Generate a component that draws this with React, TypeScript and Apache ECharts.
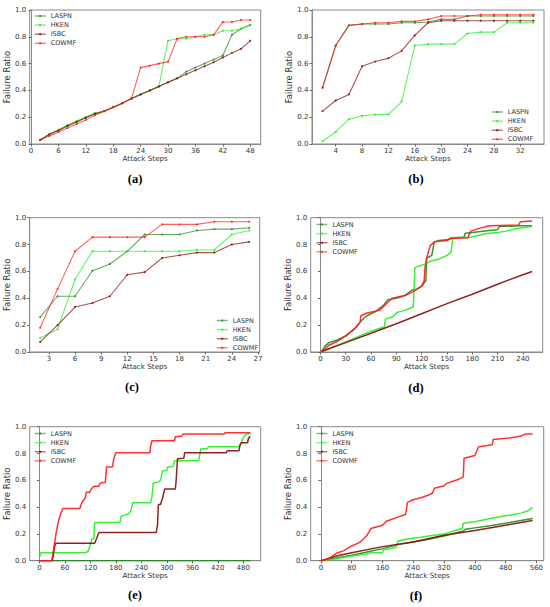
import React, { useEffect, useRef } from "react";
import * as echarts from "echarts";

// ---------- data ----------
const NAMES = ["LASPN", "HKEN", "ISBC", "COWMF"];
const COLORS = ["#1f8a1f", "#22ee22", "#850a0a", "#ff1a1a"];

// (a)
const aSteps = [2, 4, 6, 8, 10, 12, 14, 16, 18, 20, 22, 24, 26, 28, 30, 32, 34, 36, 38, 40, 42, 44, 46, 48];
const aLASPN = [0.03, 0.075, 0.105, 0.14, 0.17, 0.2, 0.23, 0.245, 0.275, 0.305, 0.34, 0.37, 0.4, 0.43, 0.46, 0.49, 0.54, 0.57, 0.6, 0.63, 0.66, 0.815, 0.86, 0.89];
const aHKEN = [0.03, 0.075, 0.105, 0.14, 0.17, 0.2, 0.23, 0.245, 0.275, 0.305, 0.34, 0.37, 0.4, 0.43, 0.77, 0.785, 0.785, 0.8, 0.815, 0.815, 0.845, 0.845, 0.86, 0.885];
const aISBC = [0.03, 0.07, 0.1, 0.135, 0.165, 0.195, 0.225, 0.245, 0.275, 0.305, 0.34, 0.37, 0.4, 0.43, 0.46, 0.49, 0.52, 0.55, 0.58, 0.61, 0.645, 0.68, 0.71, 0.77];
const aCOWMF = [0.03, 0.06, 0.09, 0.12, 0.15, 0.18, 0.215, 0.245, 0.275, 0.305, 0.34, 0.57, 0.585, 0.6, 0.615, 0.785, 0.8, 0.8, 0.8, 0.815, 0.91, 0.91, 0.925, 0.925];
const aXTicks = [0, 6, 12, 18, 24, 30, 36, 42, 48];

// (b)
const bSteps = [2, 4, 6, 8, 10, 12, 14, 16, 18, 20, 22, 24, 26, 28, 30, 32, 34];
const bLASPN = [0.42, 0.735, 0.885, 0.895, 0.895, 0.895, 0.905, 0.905, 0.91, 0.93, 0.93, 0.955, 0.955, 0.955, 0.955, 0.955, 0.955];
const bHKEN = [0.02, 0.09, 0.185, 0.21, 0.22, 0.22, 0.315, 0.735, 0.745, 0.745, 0.745, 0.825, 0.835, 0.835, 0.905, 0.905, 0.905];
const bISBC = [0.245, 0.325, 0.37, 0.58, 0.615, 0.64, 0.695, 0.81, 0.905, 0.92, 0.92, 0.92, 0.92, 0.92, 0.92, 0.92, 0.92];
const bCOWMF = [0.42, 0.735, 0.885, 0.895, 0.905, 0.905, 0.915, 0.915, 0.93, 0.955, 0.955, 0.955, 0.965, 0.965, 0.965, 0.965, 0.965];
const bXTicks = [4, 8, 12, 16, 20, 24, 28, 32];

// (c)
const cSteps = [2, 4, 6, 8, 10, 12, 14, 16, 18, 20, 22, 24, 26];
const cLASPN = [0.26, 0.415, 0.415, 0.605, 0.655, 0.75, 0.875, 0.875, 0.875, 0.905, 0.915, 0.915, 0.925];
const cHKEN = [0.105, 0.17, 0.54, 0.75, 0.75, 0.75, 0.75, 0.75, 0.75, 0.76, 0.76, 0.875, 0.905];
const cISBC = [0.075, 0.2, 0.335, 0.365, 0.415, 0.575, 0.595, 0.7, 0.72, 0.74, 0.74, 0.8, 0.82];
const cCOWMF = [0.18, 0.47, 0.75, 0.855, 0.855, 0.855, 0.855, 0.95, 0.95, 0.95, 0.97, 0.97, 0.97];
const cXTicks = [3, 6, 9, 12, 15, 18, 21, 24, 27];

// (d) [step, ratio]
const dLASPN = [[1, 0], [5, 0.04], [10, 0.07], [20, 0.09], [30, 0.12], [40, 0.17], [48, 0.23], [55, 0.27], [65, 0.3], [75, 0.35], [80, 0.39], [90, 0.4], [100, 0.42], [108, 0.46], [115, 0.47], [120, 0.49], [125, 0.53], [126, 0.7], [132, 0.72], [135, 0.82], [140, 0.83], [150, 0.835], [155, 0.85], [170, 0.855], [172, 0.885], [180, 0.89], [200, 0.905], [210, 0.91], [212, 0.935], [240, 0.94], [251, 0.94]];
const dHKEN = [[1, 0], [30, 0.075], [60, 0.155], [76, 0.188], [77, 0.245], [85, 0.26], [91, 0.295], [100, 0.31], [110, 0.335], [112, 0.63], [124, 0.655], [130, 0.675], [140, 0.69], [150, 0.72], [155, 0.745], [157, 0.85], [178, 0.855], [186, 0.866], [195, 0.88], [210, 0.89], [220, 0.9], [230, 0.915], [240, 0.925], [251, 0.935]];
const dISBC = [[1, 0.004], [30, 0.07], [60, 0.14], [90, 0.21], [120, 0.285], [150, 0.36], [180, 0.43], [210, 0.505], [240, 0.575], [251, 0.6]];
const dCOWMF = [[1, 0], [5, 0.02], [10, 0.05], [20, 0.08], [30, 0.12], [40, 0.17], [47, 0.22], [48, 0.27], [55, 0.29], [70, 0.31], [80, 0.37], [85, 0.4], [100, 0.42], [110, 0.45], [120, 0.49], [123, 0.53], [124, 0.63], [126, 0.7], [130, 0.79], [135, 0.82], [150, 0.83], [155, 0.845], [175, 0.85], [178, 0.9], [185, 0.915], [200, 0.94], [235, 0.945], [237, 0.97], [251, 0.975]];
const dXTicks = [0, 30, 60, 90, 120, 150, 180, 210, 240];

// (e)
const eLASPN = [[1, 0], [497, 0]];
const eHKEN = [[1, 0.03], [3, 0.06], [110, 0.06], [115, 0.075], [120, 0.12], [123, 0.16], [128, 0.165], [130, 0.285], [190, 0.285], [192, 0.33], [200, 0.34], [210, 0.35], [215, 0.37], [220, 0.433], [262, 0.433], [265, 0.48], [268, 0.58], [280, 0.585], [285, 0.6], [290, 0.67], [300, 0.675], [302, 0.7], [315, 0.705], [318, 0.745], [375, 0.745], [378, 0.8], [380, 0.835], [395, 0.835], [398, 0.85], [470, 0.85], [475, 0.88], [482, 0.93], [488, 0.945], [497, 0.95]];
const eISBC = [[1, 0], [30, 0], [33, 0.05], [35, 0.1], [38, 0.13], [130, 0.13], [135, 0.17], [140, 0.21], [275, 0.21], [278, 0.27], [280, 0.42], [285, 0.42], [290, 0.47], [295, 0.535], [320, 0.535], [322, 0.6], [325, 0.76], [340, 0.765], [342, 0.805], [440, 0.805], [442, 0.82], [470, 0.82], [472, 0.86], [475, 0.88], [490, 0.88], [492, 0.91], [495, 0.925], [497, 0.925]];
const eCOWMF = [[1, 0], [28, 0], [30, 0.02], [35, 0.12], [40, 0.22], [45, 0.3], [50, 0.35], [55, 0.39], [95, 0.39], [98, 0.42], [103, 0.45], [108, 0.47], [110, 0.51], [118, 0.51], [122, 0.535], [128, 0.555], [140, 0.555], [143, 0.58], [155, 0.585], [158, 0.7], [172, 0.7], [175, 0.76], [180, 0.805], [260, 0.805], [262, 0.86], [265, 0.895], [318, 0.895], [320, 0.925], [335, 0.93], [338, 0.945], [435, 0.945], [437, 0.955], [497, 0.955]];
const eXTicks = [0, 60, 120, 180, 240, 300, 360, 420, 480];

// (f)
const fLASPN = [[1, 0], [40, 0.02], [80, 0.04], [120, 0.065], [160, 0.09], [200, 0.12], [240, 0.14], [280, 0.16], [320, 0.185], [360, 0.215], [370, 0.22], [375, 0.235], [400, 0.245], [440, 0.26], [480, 0.28], [520, 0.3], [550, 0.315]];
const fHKEN = [[1, 0], [40, 0.015], [80, 0.035], [120, 0.05], [130, 0.06], [160, 0.06], [162, 0.08], [195, 0.1], [200, 0.145], [220, 0.16], [260, 0.175], [280, 0.185], [320, 0.2], [360, 0.235], [368, 0.24], [370, 0.28], [400, 0.29], [440, 0.315], [480, 0.335], [520, 0.355], [540, 0.375], [545, 0.39], [550, 0.395]];
const fISBC = [[1, 0], [40, 0.035], [80, 0.06], [160, 0.105], [240, 0.14], [320, 0.19], [400, 0.225], [480, 0.265], [550, 0.3]];
const fCOWMF = [[1, 0], [20, 0.015], [40, 0.055], [60, 0.075], [80, 0.11], [100, 0.135], [110, 0.16], [120, 0.19], [130, 0.24], [160, 0.265], [170, 0.295], [200, 0.325], [220, 0.345], [225, 0.435], [240, 0.455], [260, 0.47], [280, 0.49], [290, 0.505], [295, 0.54], [320, 0.56], [325, 0.575], [360, 0.61], [370, 0.625], [372, 0.765], [400, 0.785], [410, 0.85], [445, 0.865], [448, 0.905], [490, 0.915], [520, 0.93], [530, 0.945], [550, 0.945]];
const fXTicks = [0, 80, 160, 240, 320, 400, 480, 560];

const CAPTIONS = ["(a)", "(b)", "(c)", "(d)", "(e)", "(f)"];

// ---------- layout ----------
const zip = (xs: number[], ys: number[]) => xs.map((x, i) => [x, ys[i]]);

const panels = [
  { grid: { left: 29.7, top: 10, width: 231, height: 134 }, min: -0.3, max: 50.3, ticks: aXTicks,
    series: [zip(aSteps, aLASPN), zip(aSteps, aHKEN), zip(aSteps, aISBC), zip(aSteps, aCOWMF)], dense: false,
    legend: { left: 34, top: 12.5 }, cap: [135, 179] },
  { grid: { left: 312, top: 10, width: 232, height: 134 }, min: 0.4, max: 35.6, ticks: bXTicks,
    series: [zip(bSteps, bLASPN), zip(bSteps, bHKEN), zip(bSteps, bISBC), zip(bSteps, bCOWMF)], dense: false,
    legend: { left: 491, top: 108.5 }, cap: [416, 179] },
  { grid: { left: 29.7, top: 217.7, width: 230, height: 134.3 }, min: 0.8, max: 27.2, ticks: cXTicks,
    series: [zip(cSteps, cLASPN), zip(cSteps, cHKEN), zip(cSteps, cISBC), zip(cSteps, cCOWMF)], dense: false,
    legend: { left: 216, top: 317 }, cap: [132, 387] },
  { grid: { left: 310.7, top: 217.7, width: 232, height: 134.3 }, min: -11.5, max: 263.5, ticks: dXTicks,
    series: [dLASPN, dHKEN, dISBC, dCOWMF], dense: true,
    legend: { left: 315.7, top: 221 }, cap: [416, 388] },
  { grid: { left: 29.7, top: 426.7, width: 231, height: 134 }, min: -23, max: 521, ticks: eXTicks,
    series: [eLASPN, eHKEN, eISBC, eCOWMF], dense: true,
    legend: { left: 34, top: 430 }, cap: [135, 595] },
  { grid: { left: 310.7, top: 426.7, width: 233, height: 134 }, min: -26.5, max: 579, ticks: fXTicks,
    series: [fLASPN, fHKEN, fISBC, fCOWMF], dense: true,
    legend: { left: 315.7, top: 430 }, cap: [416, 596] },
];

const FONT = "DejaVu Sans";
const AXIS_GREY = "#8a8a8a";

function buildOption() {
  const grid: any[] = [];
  const xAxis: any[] = [];
  const yAxis: any[] = [];
  const series: any[] = [];
  const legend: any[] = [];
  const graphic: any[] = [];
  panels.forEach((p, i) => {
    grid.push({ ...p.grid, show: true, borderColor: AXIS_GREY, borderWidth: 1, backgroundColor: "transparent" });
    xAxis.push({
      type: "value", gridIndex: i, min: p.min, max: p.max,
      name: "Attack Steps", nameLocation: "middle", nameGap: 10.5,
      nameTextStyle: { fontSize: 7.2, color: "#333", fontFamily: FONT },
      axisLine: { show: true, lineStyle: { color: AXIS_GREY, width: 1 } },
      axisTick: { show: true, customValues: p.ticks, length: 2.5, lineStyle: { color: "#666" } },
      axisLabel: { customValues: p.ticks, fontSize: 7, color: "#333", fontFamily: FONT, margin: 3.5 },
      splitLine: { show: false },
    });
    yAxis.push({
      type: "value", gridIndex: i, min: 0, max: 1, interval: 0.2,
      name: "Failure Ratio", nameLocation: "middle", nameGap: 15,
      nameTextStyle: { fontSize: 8.5, color: "#333", fontFamily: FONT },
      axisLine: { show: true, lineStyle: { color: AXIS_GREY, width: 1 } },
      axisTick: { show: true, length: 2.5, lineStyle: { color: "#666" } },
      axisLabel: { fontSize: 7, color: "#333", fontFamily: FONT, margin: 3.5, formatter: (v: number) => v.toFixed(1) },
      splitLine: { show: false },
    });
    p.series.forEach((data, k) => {
      series.push({
        type: "line", name: NAMES[k], xAxisIndex: i, yAxisIndex: i, data,
        symbol: p.dense ? "none" : "circle", symbolSize: 2.2, showSymbol: !p.dense,
        lineStyle: { color: COLORS[k], width: p.dense ? 1.5 : 1.1, opacity: p.dense ? 0.9 : 0.7 },
        itemStyle: { color: COLORS[k], opacity: p.dense ? 0.9 : 0.8 },
        z: k === 3 ? 5 : 2 + k * 0.1,
        silent: true,
      });
    });
    legend.push({
      orient: "vertical", left: p.legend.left, top: p.legend.top, padding: 0,
      itemWidth: 11, itemHeight: 3, itemGap: 2.1,
      data: NAMES,
      itemStyle: { opacity: 0.75 },
      lineStyle: { opacity: 0.6, width: 1.4 },
      textStyle: { fontSize: 6.5, color: "#333", fontFamily: FONT, lineHeight: 6 },
      selectedMode: false,
    });
    graphic.push({
      type: "text", x: p.cap[0], y: p.cap[1],
      style: { text: CAPTIONS[i], font: 'bold 12.5px "Liberation Serif"', fill: "#000", textAlign: "center", textVerticalAlign: "middle" },
    });
  });
  return { animation: false, backgroundColor: "#fff", grid, xAxis, yAxis, series, legend, graphic };
}

export default function App() {
  const ref = useRef<HTMLDivElement>(null);
  useEffect(() => {
    if (!ref.current) return;
    const chart = echarts.init(ref.current, undefined, { renderer: "svg" });
    chart.setOption(buildOption() as any);
    return () => chart.dispose();
  }, []);
  return <div ref={ref} style={{ position: "fixed", left: 0, top: 0, width: 550, height: 607 }} />;
}
